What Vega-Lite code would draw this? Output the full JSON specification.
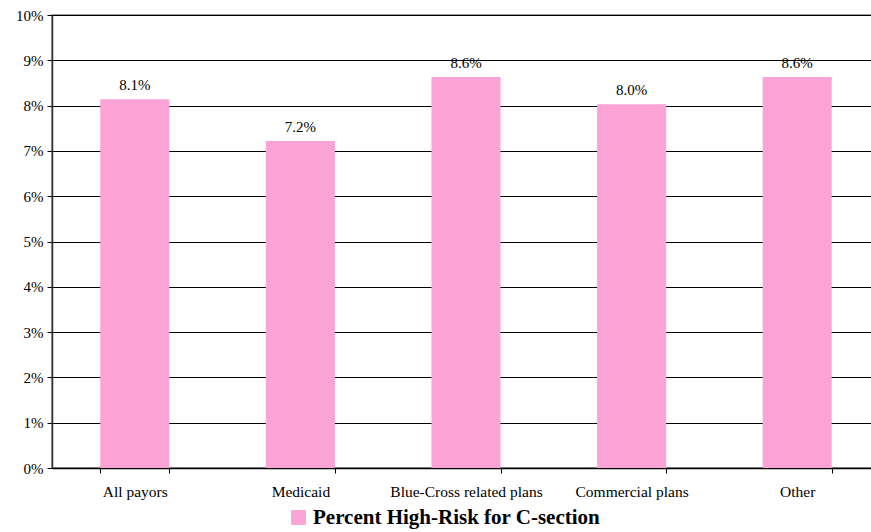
{
  "$schema": "https://vega.github.io/schema/vega-lite/v6.json",
  "width": 828,
  "height": 453,
  "autosize": {"type": "none"},
  "padding": {"left": 52, "top": 15, "right": 0, "bottom": 64},
  "background": "white",
  "config": {
    "font": "Liberation Serif",
    "view": {"stroke": "#808080", "strokeWidth": 1.5}
  },
  "data": {
    "values": [
      {"payor": "All payors", "value": 0.0814, "series": "Percent High-Risk for C-section"},
      {"payor": "Medicaid", "value": 0.0722, "series": "Percent High-Risk for C-section"},
      {"payor": "Blue-Cross related plans", "value": 0.0863, "series": "Percent High-Risk for C-section"},
      {"payor": "Commercial plans", "value": 0.0803, "series": "Percent High-Risk for C-section"},
      {"payor": "Other", "value": 0.0863, "series": "Percent High-Risk for C-section"}
    ]
  },
  "encoding": {
    "x": {
      "field": "payor",
      "type": "nominal",
      "sort": null,
      "scale": {"paddingInner": 0.583, "paddingOuter": 0.2915},
      "axis": {
        "title": null,
        "labelAngle": 0,
        "labelFont": "Liberation Serif",
        "labelFontSize": 15.5,
        "labelColor": "#000",
        "labelPadding": 11,
        "labelOverlap": false,
        "tickBand": "extent",
        "tickSize": 5,
        "tickColor": "#000",
        "domainColor": "#000",
        "domainWidth": 1.5,
        "grid": false
      }
    },
    "y": {
      "field": "value",
      "type": "quantitative",
      "scale": {"domain": [0, 0.1], "nice": false},
      "axis": {
        "title": null,
        "format": ".0%",
        "values": [0, 0.01, 0.02, 0.03, 0.04, 0.05, 0.06, 0.07, 0.08, 0.09, 0.1],
        "labelOverlap": false,
        "labelFont": "Liberation Serif",
        "labelFontSize": 15,
        "labelColor": "#000",
        "labelPadding": 4,
        "tickSize": 5,
        "tickColor": "#000",
        "domainColor": "#333",
        "domainWidth": 1.5,
        "grid": true,
        "gridColor": "#000",
        "gridWidth": 1
      }
    }
  },
  "layer": [
    {
      "mark": {"type": "bar"},
      "encoding": {
        "color": {
          "field": "series",
          "type": "nominal",
          "scale": {"range": ["#FBA3D5"]},
          "legend": {
            "title": null,
            "orient": "none",
            "legendX": 236,
            "legendY": 492,
            "symbolType": "square",
            "symbolSize": 220,
            "symbolStrokeWidth": 0,
            "symbolOpacity": 1,
            "labelFont": "Liberation Serif",
            "labelFontSize": 21,
            "labelFontWeight": "bold",
            "labelColor": "#000",
            "labelOffset": 4,
            "labelLimit": 400
          }
        }
      }
    },
    {
      "mark": {"type": "text", "dy": -14, "font": "Liberation Serif", "fontSize": 15, "color": "#000"},
      "encoding": {
        "text": {"field": "value", "type": "quantitative", "format": ".1%"}
      }
    }
  ]
}
